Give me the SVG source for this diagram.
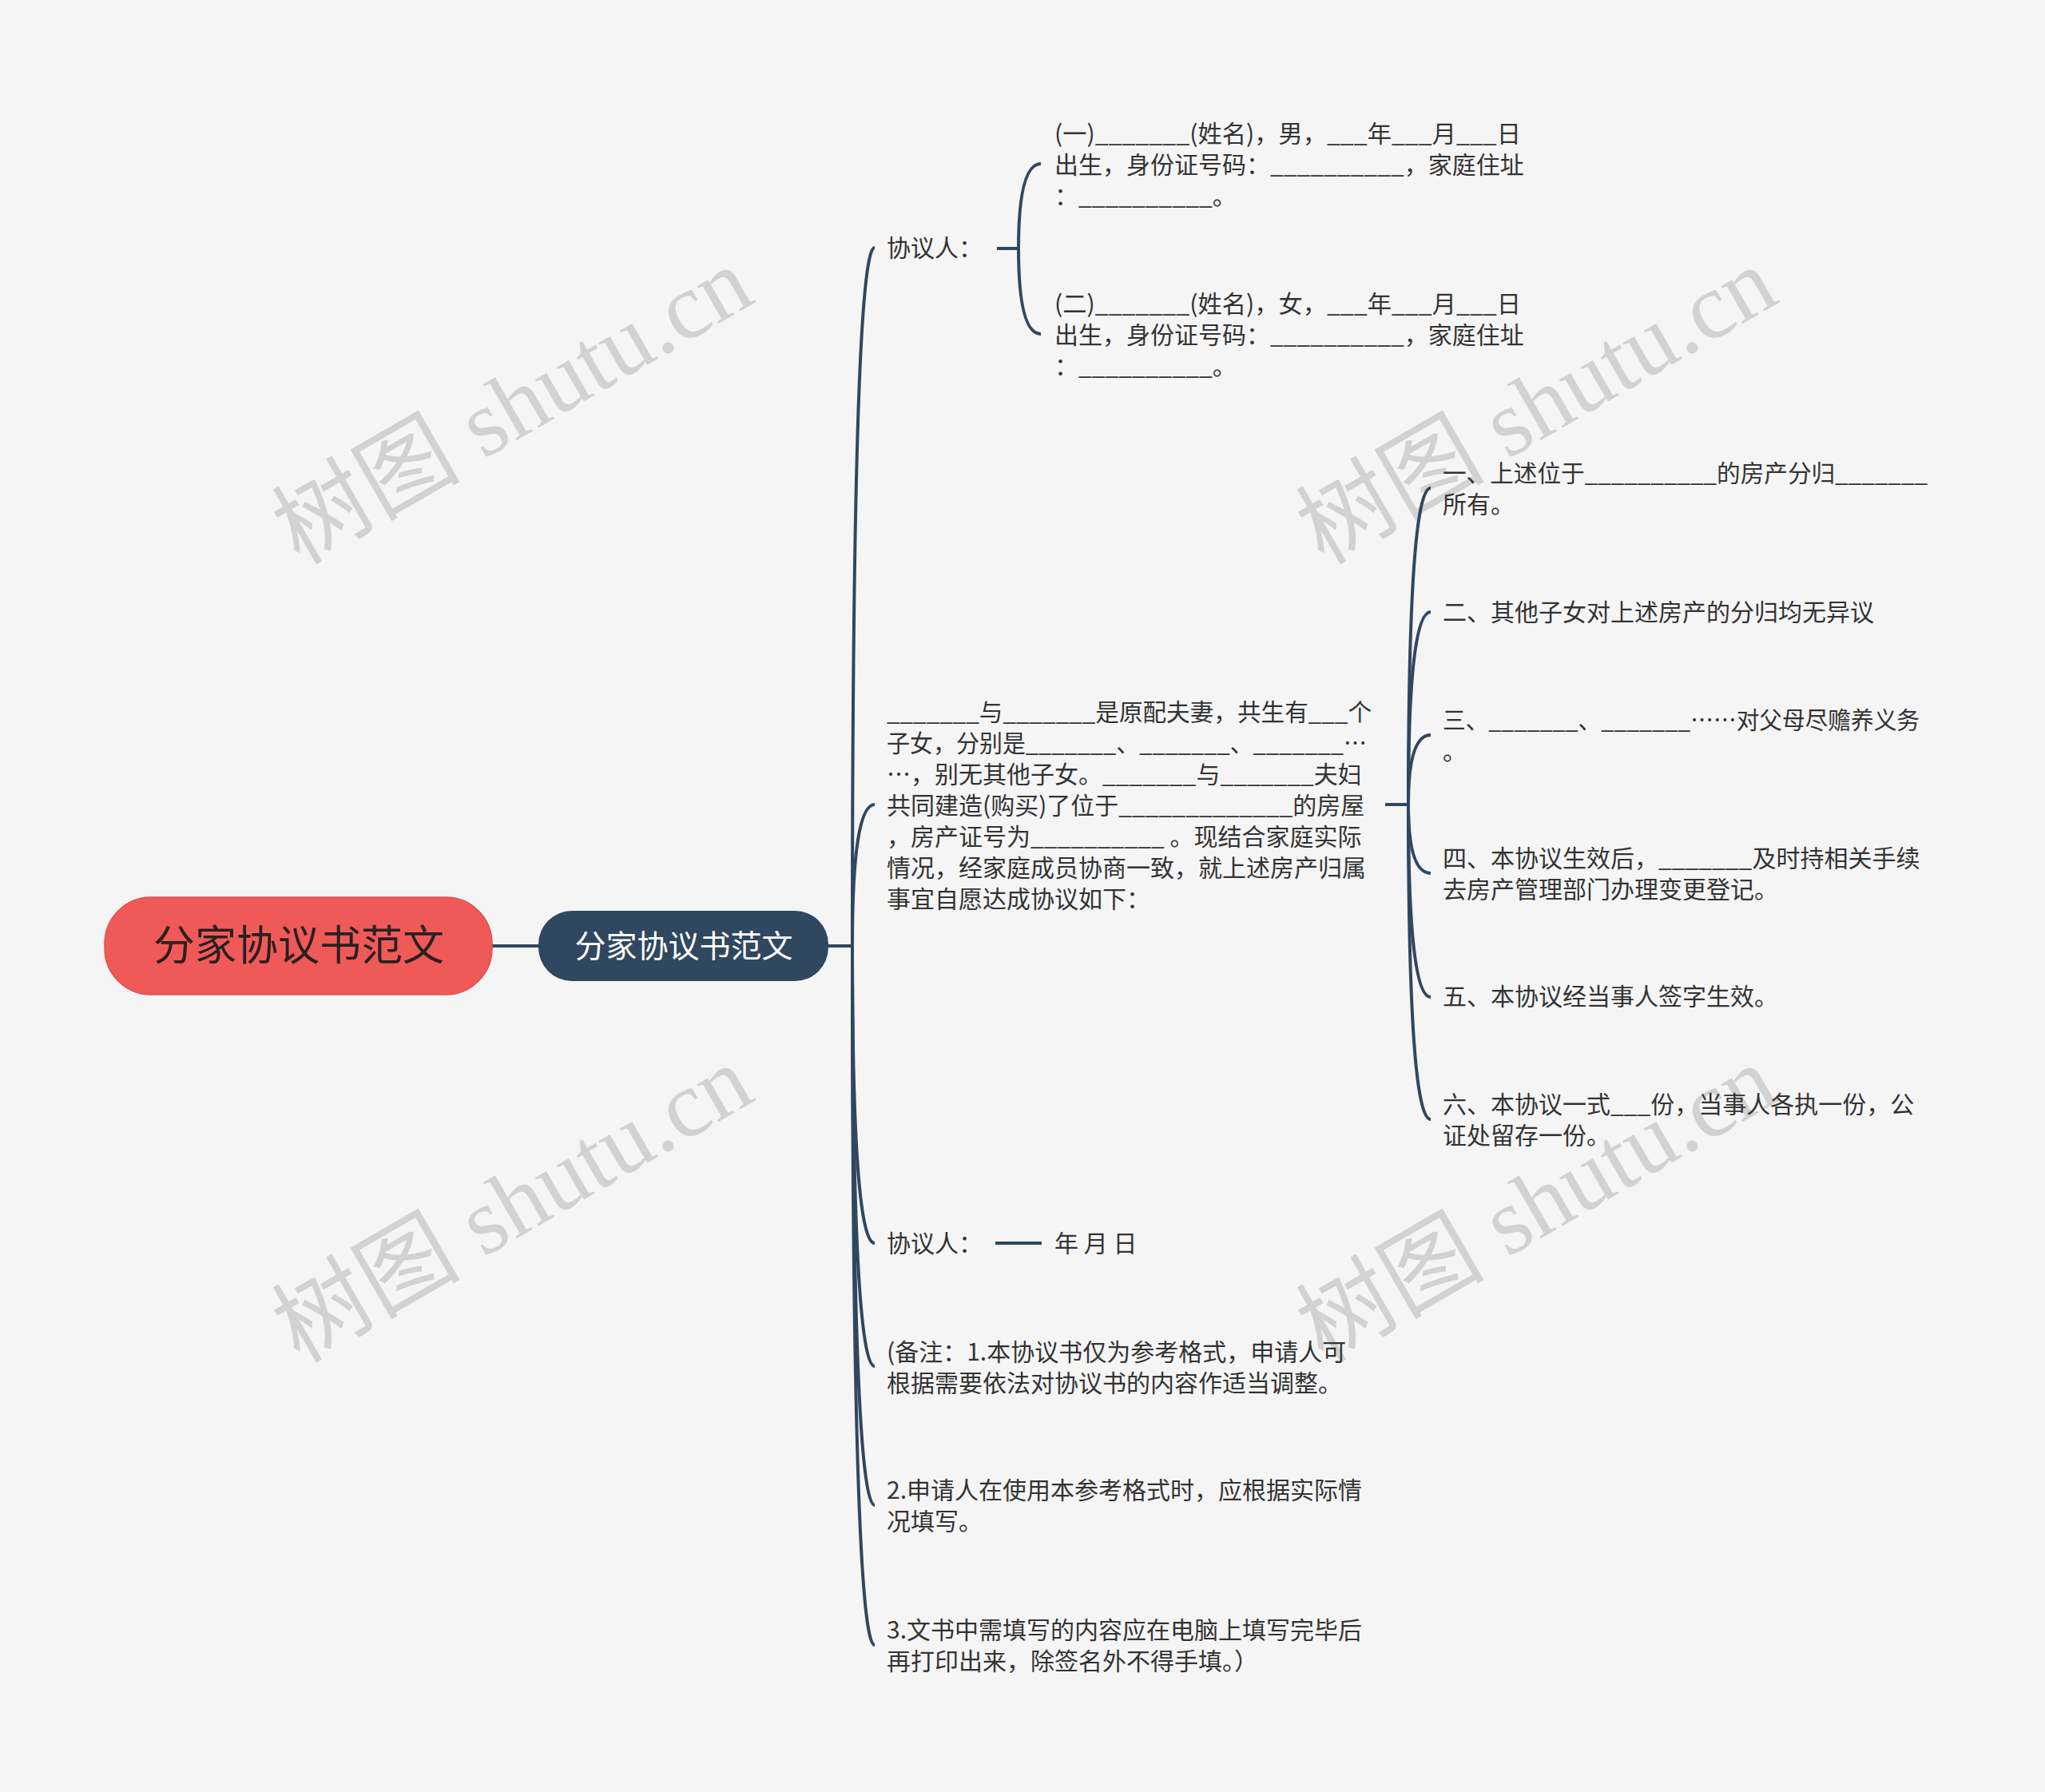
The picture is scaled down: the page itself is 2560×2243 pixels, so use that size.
<svg xmlns="http://www.w3.org/2000/svg" width="2560" height="2243" viewBox="0 0 2560 2243">
<style>
.bg{fill:#f5f5f5}
.wm{font-family:"Liberation Serif","Noto Sans CJK SC",serif;font-size:118px;fill:#d2d2d2;text-anchor:middle}
.t{font-family:"Noto Sans CJK SC","Noto Sans",sans-serif;font-size:30px;fill:#333333}
.root-t{font-family:"Noto Sans CJK SC",sans-serif;font-size:52px;fill:#2a2020;text-anchor:middle}
.main-t{font-family:"Noto Sans CJK SC",sans-serif;font-size:39px;fill:#ffffff;text-anchor:middle}
.ln{fill:none;stroke:#304760;stroke-width:4;stroke-linecap:butt}
</style>
<rect class="bg" x="0" y="0" width="2560" height="2243"/>
<g id="watermarks">
<text class="wm" x="645" y="547" transform="rotate(-30 645 514)">树图 shutu.cn</text>
<text class="wm" x="1927" y="547" transform="rotate(-30 1927 514)">树图 shutu.cn</text>
<text class="wm" x="645" y="1546" transform="rotate(-30 645 1513)">树图 shutu.cn</text>
<text class="wm" x="1927" y="1546" transform="rotate(-30 1927 1513)">树图 shutu.cn</text>
</g>
<g id="connectors">
<path class="ln" d="M616 1184 H674"/>
<path class="ln" d="M1037 1184 H1067"/>
<path class="ln" d="M1067 1184 Q1067 310 1095 310"/>
<path class="ln" d="M1067 1184 Q1067 1007 1095 1007"/>
<path class="ln" d="M1067 1184 Q1067 1556 1095 1556"/>
<path class="ln" d="M1067 1184 Q1067 1710 1095 1710"/>
<path class="ln" d="M1067 1184 Q1067 1884 1095 1884"/>
<path class="ln" d="M1067 1184 Q1067 2059 1095 2059"/>
<path class="ln" d="M1248 311 H1275"/>
<path class="ln" d="M1275 311 Q1275 205 1303 205"/>
<path class="ln" d="M1275 311 Q1275 418 1303 418"/>
<path class="ln" d="M1734 1007 H1763"/>
<path class="ln" d="M1763 1007 Q1763 611 1791 611"/>
<path class="ln" d="M1763 1007 Q1763 766 1791 766"/>
<path class="ln" d="M1763 1007 Q1763 920 1791 920"/>
<path class="ln" d="M1763 1007 Q1763 1093 1791 1093"/>
<path class="ln" d="M1763 1007 Q1763 1248 1791 1248"/>
<path class="ln" d="M1763 1007 Q1763 1401 1791 1401"/>
<path class="ln" d="M1246 1556 H1304"/>
</g>
<g id="root">
<rect x="131" y="1123" width="485" height="122" rx="58" fill="#ef5a59" stroke="#e04f4f" stroke-width="1.5"/>
<text class="root-t" x="374" y="1202">分家协议书范文</text>
</g>
<g id="main">
<rect x="674" y="1140" width="363" height="88" rx="42" fill="#304760"/>
<text class="main-t" x="856" y="1198">分家协议书范文</text>
</g>
<g id="n-xieyiren1">
<text class="t" x="1110" y="321">协议人：</text>
</g>
<g id="n-party1">
<text class="t" x="1320" y="178" textLength="584" lengthAdjust="spacingAndGlyphs">(一)_______(姓名)，男，___年___月___日</text>
<text class="t" x="1320" y="217">出生，身份证号码：__________，家庭住址</text>
<text class="t" x="1320" y="256">：__________。</text>
</g>
<g id="n-party2">
<text class="t" x="1320" y="391" textLength="584" lengthAdjust="spacingAndGlyphs">(二)_______(姓名)，女，___年___月___日</text>
<text class="t" x="1320" y="430">出生，身份证号码：__________，家庭住址</text>
<text class="t" x="1320" y="469">：__________。</text>
</g>
<g id="n-paragraph">
<text class="t" x="1110" y="902" textLength="607" lengthAdjust="spacingAndGlyphs">_______与_______是原配夫妻，共生有___个</text>
<text class="t" x="1110" y="941" textLength="601" lengthAdjust="spacingAndGlyphs">子女，分别是_______、_______、_______…</text>
<text class="t" x="1110" y="980">…，别无其他子女。_______与_______夫妇</text>
<text class="t" x="1110" y="1019">共同建造(购买)了位于_____________的房屋</text>
<text class="t" x="1110" y="1058">，房产证号为__________ 。现结合家庭实际</text>
<text class="t" x="1110" y="1097">情况，经家庭成员协商一致，就上述房产归属</text>
<text class="t" x="1110" y="1136">事宜自愿达成协议如下：</text>
</g>
<g id="n-item1">
<text class="t" x="1806" y="603" textLength="607" lengthAdjust="spacingAndGlyphs">一、上述位于__________的房产分归_______</text>
<text class="t" x="1806" y="642">所有。</text>
</g>
<g id="n-item2">
<text class="t" x="1806" y="777">二、其他子女对上述房产的分归均无异议</text>
</g>
<g id="n-item3">
<text class="t" x="1806" y="912" textLength="597" lengthAdjust="spacingAndGlyphs">三、_______、_______……对父母尽赡养义务</text>
<text class="t" x="1806" y="951">。</text>
</g>
<g id="n-item4">
<text class="t" x="1806" y="1085">四、本协议生效后，_______及时持相关手续</text>
<text class="t" x="1806" y="1124">去房产管理部门办理变更登记。</text>
</g>
<g id="n-item5">
<text class="t" x="1806" y="1258">五、本协议经当事人签字生效。</text>
</g>
<g id="n-item6">
<text class="t" x="1806" y="1393">六、本协议一式___份，当事人各执一份，公</text>
<text class="t" x="1806" y="1432">证处留存一份。</text>
</g>
<g id="n-xieyiren2">
<text class="t" x="1110" y="1567">协议人：</text>
</g>
<g id="n-date">
<text class="t" x="1320" y="1567">年 月 日</text>
</g>
<g id="n-note1">
<text class="t" x="1110" y="1703">(备注：1.本协议书仅为参考格式，申请人可</text>
<text class="t" x="1110" y="1742">根据需要依法对协议书的内容作适当调整。</text>
</g>
<g id="n-note2">
<text class="t" x="1110" y="1876">2.申请人在使用本参考格式时，应根据实际情</text>
<text class="t" x="1110" y="1915">况填写。</text>
</g>
<g id="n-note3">
<text class="t" x="1110" y="2051">3.文书中需填写的内容应在电脑上填写完毕后</text>
<text class="t" x="1110" y="2090">再打印出来，除签名外不得手填。）</text>
</g>
</svg>
